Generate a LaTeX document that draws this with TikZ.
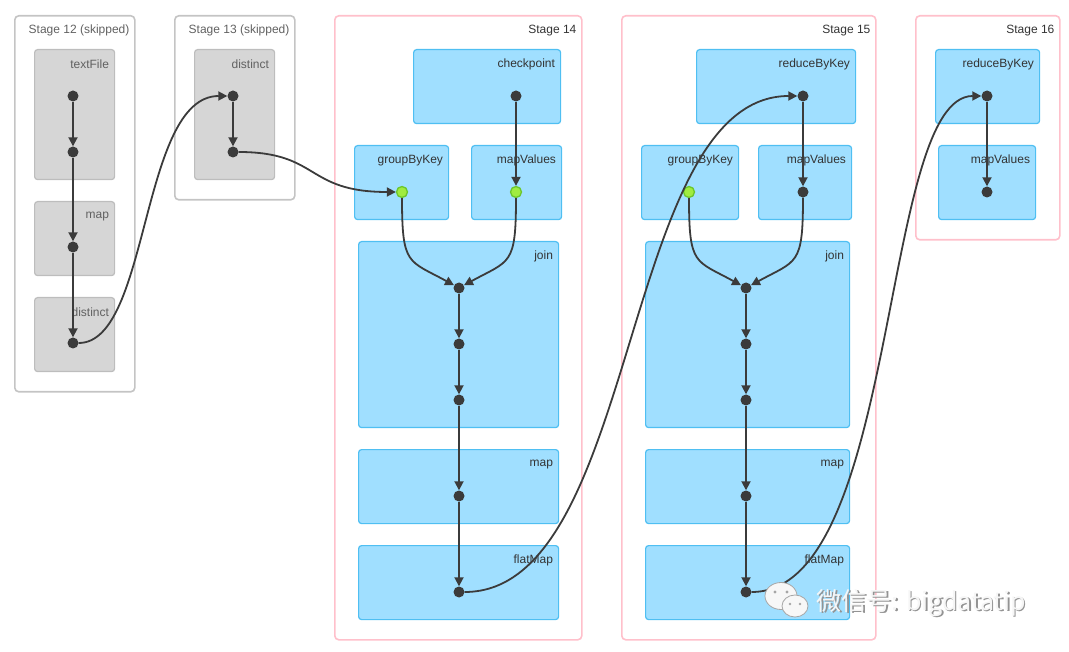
\documentclass[tikz,border=0pt]{standalone}
\usepackage{fontspec}
\setmainfont{Liberation Sans}
\newfontfamily\cjk{Noto Sans CJK SC}
\usetikzlibrary{arrows.meta}
\definecolor{stagepink}{HTML}{FFC0CB}
\definecolor{skipgray}{HTML}{C4C4C4}
\definecolor{opfill}{HTML}{A0DFFF}
\definecolor{opline}{HTML}{4FBFF2}
\definecolor{grayfill}{HTML}{D6D6D6}
\definecolor{grayline}{HTML}{BDBDBD}
\definecolor{dotdark}{HTML}{3B3B3B}
\definecolor{dotgreen}{HTML}{A0EC40}
\definecolor{greenline}{HTML}{6CC62C}
\tikzset{
  stage/.style={draw=stagepink, line width=1.6pt, rounded corners=4pt, anchor=north west, inner sep=0pt},
  skipstage/.style={stage, draw=skipgray},
  opbox/.style={draw=opline, fill=opfill, line width=1.2pt, rounded corners=3pt, anchor=north west, inner sep=0pt},
  skipbox/.style={opbox, draw=grayline, fill=grayfill},
  boxsize/.style 2 args={minimum width=#1pt, minimum height=#2pt},
  lbl/.style={anchor=east, inner sep=0pt, xshift=-6pt, yshift=-15.5pt, text=black!80, font=\fontsize{12}{14}\selectfont},
  skiplbl/.style={lbl, text=black!62},
  dot/.style={circle, fill=dotdark, inner sep=0pt, minimum size=11pt},
  gdot/.style={circle, fill=dotgreen, draw=greenline, line width=1.3pt, inner sep=0pt, minimum size=11pt},
  flow/.style={draw=dotdark, line width=1.8pt, -{Triangle[length=9pt,width=9pt]}},
}
\begin{document}
\begin{tikzpicture}[x=1pt, y=-1pt]
\useasboundingbox (0,0) rectangle (1069,652);
% Stage 12
\node[skipstage, boxsize={120}{376}] (st12) at (14,15) {};
\node[skiplbl] (st12l) at (st12.north east) {Stage 12 (skipped)};
\node[skipbox, boxsize={80}{130}] (tf12) at (34,49) {};
\node[skiplbl] (tf12l) at (tf12.north east) {textFile};
\node[skipbox, boxsize={80}{74}] (mp12) at (34,201) {};
\node[skiplbl] (mp12l) at (mp12.north east) {map};
\node[skipbox, boxsize={80}{74}] (ds12) at (34,297) {};
\node[skiplbl] (ds12l) at (ds12.north east) {distinct};
% Stage 13
\node[skipstage, boxsize={120}{184}] (st13) at (174,15) {};
\node[skiplbl] (st13l) at (st13.north east) {Stage 13 (skipped)};
\node[skipbox, boxsize={80}{130}] (ds13) at (194,49) {};
\node[skiplbl] (ds13l) at (ds13.north east) {distinct};
% Stage 14
\node[stage, boxsize={247}{624}] (st14) at (334,15) {};
\node[lbl] (st14l) at (st14.north east) {Stage 14};
\node[opbox, boxsize={147}{74}] (ck14) at (413,49) {};
\node[lbl] (ck14l) at (ck14.north east) {checkpoint};
\node[opbox, boxsize={94}{74}] (gb14) at (354,145) {};
\node[lbl] (gb14l) at (gb14.north east) {groupByKey};
\node[opbox, boxsize={90}{74}] (mv14) at (471,145) {};
\node[lbl] (mv14l) at (mv14.north east) {mapValues};
\node[opbox, boxsize={200}{186}] (jn14) at (358,241) {};
\node[lbl] (jn14l) at (jn14.north east) {join};
\node[opbox, boxsize={200}{74}] (mp14) at (358,449) {};
\node[lbl] (mp14l) at (mp14.north east) {map};
\node[opbox, boxsize={200}{74}] (fm14) at (358,545) {};
\node[lbl] (fm14l) at (fm14.north east) {flatMap};
% Stage 15
\node[stage, boxsize={254}{624}] (st15) at (621,15) {};
\node[lbl] (st15l) at (st15.north east) {Stage 15};
\node[opbox, boxsize={159}{74}] (rb15) at (696,49) {};
\node[lbl] (rb15l) at (rb15.north east) {reduceByKey};
\node[opbox, boxsize={97}{74}] (gb15) at (641,145) {};
\node[lbl] (gb15l) at (gb15.north east) {groupByKey};
\node[opbox, boxsize={93}{74}] (mv15) at (758,145) {};
\node[lbl] (mv15l) at (mv15.north east) {mapValues};
\node[opbox, boxsize={204}{186}] (jn15) at (645,241) {};
\node[lbl] (jn15l) at (jn15.north east) {join};
\node[opbox, boxsize={204}{74}] (mp15) at (645,449) {};
\node[lbl] (mp15l) at (mp15.north east) {map};
\node[opbox, boxsize={204}{74}] (fm15) at (645,545) {};
\node[lbl] (fm15l) at (fm15.north east) {flatMap};
% Stage 16
\node[stage, boxsize={144}{224}] (st16) at (915,15) {};
\node[lbl] (st16l) at (st16.north east) {Stage 16};
\node[opbox, boxsize={104}{74}] (rb16) at (935,49) {};
\node[lbl] (rb16l) at (rb16.north east) {reduceByKey};
\node[opbox, boxsize={97}{74}] (mv16) at (938,145) {};
\node[lbl] (mv16l) at (mv16.north east) {mapValues};
% dots
\node[dot] (tfa) at (73,96) {};
\node[dot] (tfb) at (73,152) {};
\node[dot] (mpa) at (73,247) {};
\node[dot] (dsa) at (73,343) {};
\node[dot] (dda) at (233,96) {};
\node[dot] (ddb) at (233,152) {};
\node[dot] (cka) at (516,96) {};
\node[gdot] (gba) at (402,192) {};
\node[gdot] (mva) at (516,192) {};
\node[dot] (jna) at (459,288) {};
\node[dot] (jnb) at (459,344) {};
\node[dot] (jnc) at (459,400) {};
\node[dot] (mpb) at (459,496) {};
\node[dot] (fma) at (459,592) {};
\node[dot] (rba) at (803,96) {};
\node[gdot] (gbb) at (689,192) {};
\node[dot] (mvb) at (803,192) {};
\node[dot] (jnd) at (746,288) {};
\node[dot] (jne) at (746,344) {};
\node[dot] (jnf) at (746,400) {};
\node[dot] (mpc) at (746,496) {};
\node[dot] (fmb) at (746,592) {};
\node[dot] (rbb) at (987,96) {};
\node[dot] (mvc) at (987,192) {};
% edges
\draw[flow] (tfa) -- (tfb);
\draw[flow] (tfb) -- (mpa);
\draw[flow] (mpa) -- (dsa);
\draw[flow] (dsa) .. controls (150,343) and (140,96) .. (dda);
\draw[flow] (dda) -- (ddb);
\draw[flow] (ddb) .. controls (320,152) and (305,192) .. (gba);
\draw[flow] (cka) -- (mva);
\draw[flow] (gba) .. controls (402,266) and (408,260) .. (jna);
\draw[flow] (mva) .. controls (516,266) and (510,260) .. (jna);
\draw[flow] (jna) -- (jnb);
\draw[flow] (jnb) -- (jnc);
\draw[flow] (jnc) -- (mpb);
\draw[flow] (mpb) -- (fma);
\draw[flow] (fma) .. controls (640,592) and (620,96) .. (rba);
\draw[flow] (rba) -- (mvb);
\draw[flow] (gbb) .. controls (689,266) and (695,260) .. (jnd);
\draw[flow] (mvb) .. controls (803,266) and (797,260) .. (jnd);
\draw[flow] (jnd) -- (jne);
\draw[flow] (jne) -- (jnf);
\draw[flow] (jnf) -- (mpc);
\draw[flow] (mpc) -- (fmb);
\draw[flow] (fmb) .. controls (900,592) and (880,96) .. (rbb);
\draw[flow] (rbb) -- (mvc);
% watermark
\draw[gray!70, fill=white!94!gray, line width=0.8pt] (781,596) ellipse (16 and 13.5);
\draw[gray!70, fill=white!94!gray, line width=0.8pt] (795,606) ellipse (13 and 11);
\fill[gray!70] (775,592) circle (1.6) (787,592) circle (1.6) (790,604) circle (1.4) (800,604) circle (1.4);
\node[anchor=west, inner sep=0pt, text=gray!85, font=\cjk\fontsize{25}{29}\selectfont] (wmshadow) at (818.2,604.5) {微信号: bigdatatip};
\node[anchor=west, inner sep=0pt, text=white!93!gray, font=\cjk\fontsize{25}{29}\selectfont] (wm) at (816.5,603) {微信号: bigdatatip};
\end{tikzpicture}
\end{document}
